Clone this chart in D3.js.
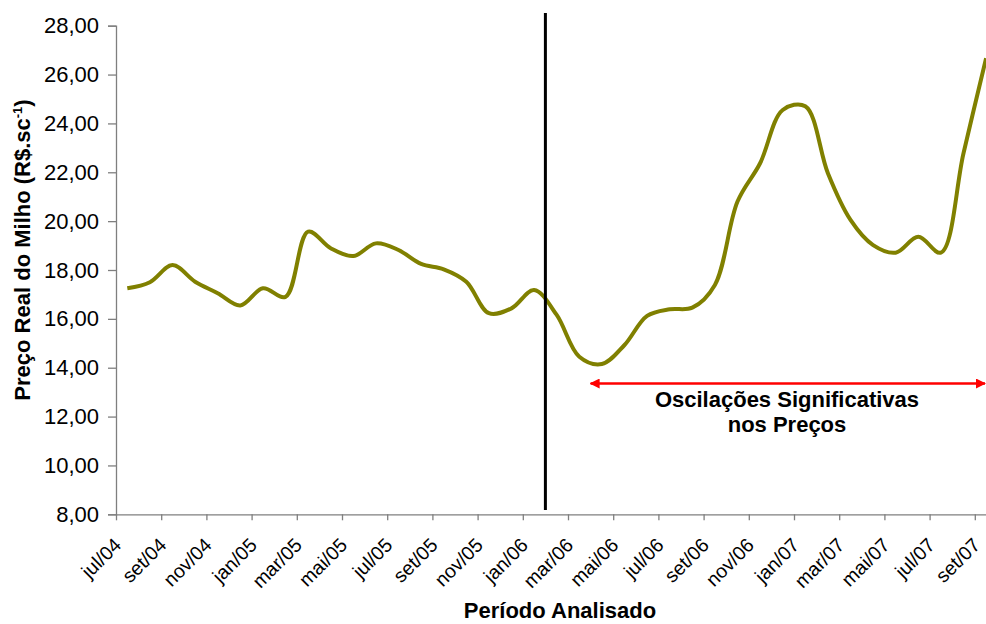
<!DOCTYPE html>
<html>
<head>
<meta charset="utf-8">
<script src="https://cdn.jsdelivr.net/npm/d3@7"></script>
<style>
  body { margin: 0; background: #fff; }
  svg { display: block; font-family: "Liberation Sans", Arial, sans-serif; }
</style>
</head>
<body>
<div id="chart"></div>
<script>
// monthly categories jul/04 .. set/07
const months = [
  "jul/04","ago/04","set/04","out/04","nov/04","dez/04",
  "jan/05","fev/05","mar/05","abr/05","mai/05","jun/05",
  "jul/05","ago/05","set/05","out/05","nov/05","dez/05",
  "jan/06","fev/06","mar/06","abr/06","mai/06","jun/06",
  "jul/06","ago/06","set/06","out/06","nov/06","dez/06",
  "jan/07","fev/07","mar/07","abr/07","mai/07","jun/07",
  "jul/07","ago/07","set/07"
];

// preco real do milho (R$/saca)
const prices = [
  17.25, 17.50, 18.20, 17.52, 17.05, 16.55,
  17.25, 16.90, 19.57, 18.89, 18.57, 19.09,
  18.82, 18.25, 18.03, 17.52, 16.23, 16.43,
  17.18, 16.16, 14.45, 14.15, 14.93, 16.12,
  16.39, 16.46, 17.39, 20.80, 22.37, 24.55,
  24.70, 21.96, 20.05, 19.02, 18.71, 19.36,
  18.71, 22.78, 26.67
];

const yTicks = [8, 10, 12, 14, 16, 18, 20, 22, 24, 26, 28];

const w = 986, h = 624;
const margin = { top: 25.7, left: 116, bottom: 514.3 };
const step = 22.6;

const svg = d3.select("#chart").append("svg")
  .attr("width", w)
  .attr("height", h);

const x = d3.scaleLinear().domain([0, months.length]).range([margin.left, margin.left + months.length * step]),
      y = d3.scaleLinear().domain([8, 28]).range([margin.bottom, margin.top]);

const fmt = v => d3.format(".2f")(v).replace(".", ",");

// y axis
const yAxis = svg.append("g")
  .attr("transform", `translate(${margin.left},0)`)
  .call(d3.axisLeft(y).tickValues(yTicks).tickFormat(fmt).tickSize(8).tickPadding(9));
yAxis.selectAll("text").style("font-size", "22px").attr("fill", "#000");
yAxis.selectAll("line, path").attr("stroke", "#7f7f7f").attr("stroke-width", 1.3);

// x axis, ticks on category boundaries, every 2 months
const xAxis = svg.append("g")
  .attr("transform", `translate(0,${margin.bottom})`)
  .call(d3.axisBottom(x)
    .tickValues(d3.range(0, months.length, 2))
    .tickFormat(i => months[i])
    .tickSize(6)
    .tickSizeOuter(0));
xAxis.selectAll("line, path").attr("stroke", "#7f7f7f").attr("stroke-width", 1.3);
xAxis.selectAll("text")
  .style("font-size", "19.5px")
  .attr("fill", "#000")
  .style("text-anchor", "end")
  .attr("dy", 0)
  .attr("y", 0)
  .attr("transform", "translate(6,32) rotate(-45)");

// axis titles
svg.append("text")
  .attr("x", 560).attr("y", 618)
  .attr("text-anchor", "middle")
  .style("font-size", "22px").style("font-weight", "bold")
  .text("Período Analisado");

const yt = svg.append("text")
  .attr("transform", "translate(30,250) rotate(-90)")
  .attr("text-anchor", "middle")
  .style("font-size", "22px").style("font-weight", "bold");
yt.append("tspan").text("Preço Real do Milho (R$.sc");
yt.append("tspan").attr("dy", -8).style("font-size", "13px").text("-1");
yt.append("tspan").attr("dy", 8).text(")");

// price line
const line = d3.line()
  .x((d, i) => x(i + 0.5))
  .y(d => y(d))
  .curve(d3.curveCatmullRom.alpha(0.5));

svg.append("path")
  .datum(prices)
  .attr("fill", "none")
  .attr("stroke", "#808000")
  .attr("stroke-width", 4)
  .attr("stroke-linejoin", "round")
  .attr("d", line);

// marker between jan/06 and fev/06
const cut = months.indexOf("fev/06");
svg.append("line")
  .attr("x1", x(cut)).attr("x2", x(cut))
  .attr("y1", 13).attr("y2", 510)
  .attr("stroke", "#000")
  .attr("stroke-width", 3);

// red double arrow
const defs = svg.append("defs");
defs.append("marker")
  .attr("id", "head")
  .attr("viewBox", "0 0 10 10")
  .attr("refX", 9).attr("refY", 5)
  .attr("markerWidth", 4).attr("markerHeight", 4)
  .attr("orient", "auto-start-reverse")
  .append("path")
  .attr("d", "M0,0 L10,5 L0,10 Z")
  .attr("fill", "#ff0000");

const aY = 383.5;
svg.append("line")
  .attr("x1", x(21)).attr("x2", 985)
  .attr("y1", aY).attr("y2", aY)
  .attr("stroke", "#ff0000")
  .attr("stroke-width", 2.5)
  .attr("marker-start", "url(#head)")
  .attr("marker-end", "url(#head)");

const note = svg.append("text")
  .attr("text-anchor", "middle")
  .style("font-size", "22px").style("font-weight", "bold");
note.append("tspan").attr("x", 787).attr("y", 406.5).text("Oscilações Significativas");
note.append("tspan").attr("x", 787).attr("y", 432).text("nos Preços");
</script>
</body>
</html>
